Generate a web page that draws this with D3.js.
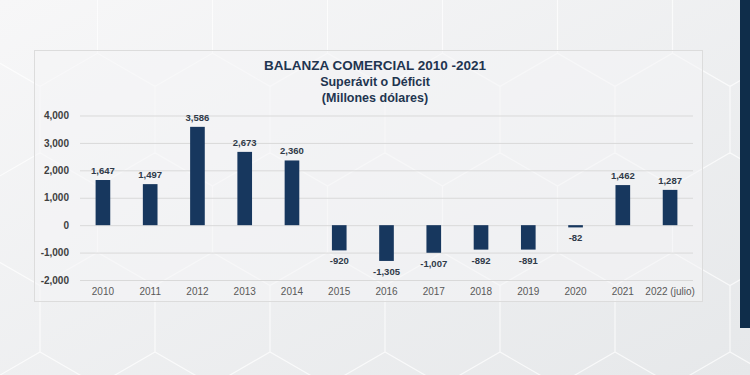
<!DOCTYPE html>
<html>
<head>
<meta charset="utf-8">
<script src="https://cdn.jsdelivr.net/npm/d3@7"></script>
<style>
  body { margin: 0; }
  svg { display: block; font-family: "Liberation Sans", Arial, sans-serif; }
</style>
</head>
<body>
<div id="chart"></div>
<script>
// data
const years = ["2010", "2011", "2012", "2013", "2014", "2015", "2016", "2017", "2018", "2019", "2020", "2021", "2022 (julio)"]
const balance = [1647, 1497, 3586, 2673, 2360, -920, -1305, -1007, -892, -891, -82, 1462, 1287]
const yTicks = [-2000, -1000, 0, 1000, 2000, 3000, 4000]
const titleLines = ["BALANZA COMERCIAL 2010 -2021", "Superávit o Déficit", "(Millones dólares)"]

const W = 750, H = 375
const navy = "#17375e"
// plain hyphen for negatives, like the source
const fmt = d3.formatLocale({ decimal: ".", thousands: ",", grouping: [3], currency: ["$", ""], minus: "-" }).format(",")

const svg = d3.select("#chart").append("svg")
  .attr("width", W)
  .attr("height", H)

// background gradient
const defs = svg.append("defs")
const grad = defs.append("linearGradient").attr("id", "bg")
  .attr("x1", 0).attr("y1", 0).attr("x2", 1).attr("y2", 1)
grad.append("stop").attr("offset", 0).attr("stop-color", "#f7f7f8")
grad.append("stop").attr("offset", 1).attr("stop-color", "#e6e8ea")
svg.append("rect").attr("width", W).attr("height", H).attr("fill", "url(#bg)")

// faint hexagon lattice (decoration)
const hexW = 115, side = hexW / Math.sqrt(3)
const hexPath = d3.path()
for (let row = -1; row < 6; row++) {
  const cy = row * side * 1.5 + 20
  const offset = (row % 2 === 0) ? 0 : hexW / 2
  for (let col = -1; col < 9; col++) {
    const cx = col * hexW + offset + 40
    const pts = d3.range(6).map(k => {
      const a = Math.PI / 3 * k + Math.PI / 6
      return [cx + side * Math.cos(a), cy + side * Math.sin(a)]
    })
    hexPath.moveTo(...pts[0])
    pts.slice(1).forEach(p => hexPath.lineTo(...p))
    hexPath.closePath()
  }
}
svg.append("path")
  .attr("d", hexPath.toString())
  .attr("fill", "none")
  .attr("stroke", "#ffffff")
  .attr("stroke-width", 1.2)
  .attr("opacity", 0.7)

// dark strip on the right edge
svg.append("rect")
  .attr("x", 740).attr("y", 0)
  .attr("width", 10).attr("height", 328)
  .attr("fill", "#0f2d4a")

// chart panel
svg.append("rect")
  .attr("x", 34.5).attr("y", 50.5)
  .attr("width", 668).attr("height", 251)
  .attr("fill", "#f4f4f5").attr("fill-opacity", 0.55)
  .attr("stroke", "#dcdcdc")

// titles
svg.append("g").selectAll("text")
  .data(titleLines)
  .join("text")
  .attr("x", 375)
  .attr("y", (d, i) => 70 + i * 16)
  .attr("text-anchor", "middle")
  .attr("font-size", (d, i) => i === 0 ? 13.5 : 12.5)
  .attr("font-weight", "bold")
  .attr("fill", "#1f3550")
  .text(d => d)

const x = d3.scaleBand()
  .domain(years)
  .range([80, 693])
  .paddingInner(0.69)
  .paddingOuter(0.33)

const y = d3.scaleLinear()
  .domain([-2000, 4000])
  .range([280, 115.5])

// gridlines + y labels
const gy = svg.append("g")
  .attr("transform", "translate(80,0)")
  .call(d3.axisLeft(y).tickValues(yTicks).tickSize(-613).tickFormat(fmt))
gy.select(".domain").remove()
gy.selectAll(".tick line").attr("stroke", "#d9d9d9")
gy.selectAll(".tick text")
  .attr("x", -11)
  .attr("font-size", 10)
  .attr("font-weight", "bold")
  .attr("fill", "#404040")
  .attr("font-family", "Liberation Sans, Arial, sans-serif")

// x labels
const gx = svg.append("g")
  .attr("transform", "translate(0,280)")
  .call(d3.axisBottom(x).tickSize(0).tickPadding(8))
gx.select(".domain").remove()
gx.selectAll(".tick text")
  .attr("font-size", 10)
  .attr("fill", "#595959")
  .attr("font-family", "Liberation Sans, Arial, sans-serif")

// bars
svg.append("g").selectAll("rect")
  .data(balance)
  .join("rect")
  .attr("x", (d, i) => x(years[i]))
  .attr("y", d => y(Math.max(0, d)))
  .attr("width", x.bandwidth())
  .attr("height", d => Math.max(1.5, Math.abs(y(d) - y(0))))
  .attr("fill", navy)

// value labels
svg.append("g").selectAll("text")
  .data(balance)
  .join("text")
  .attr("x", (d, i) => x(years[i]) + x.bandwidth() / 2)
  .attr("y", d => d >= 0 ? y(d) - 6 : y(d) + 14)
  .attr("text-anchor", "middle")
  .attr("font-size", 9.5)
  .attr("font-weight", "bold")
  .attr("fill", "#2f3a48")
  .text(d => fmt(d))
</script>
</body>
</html>
